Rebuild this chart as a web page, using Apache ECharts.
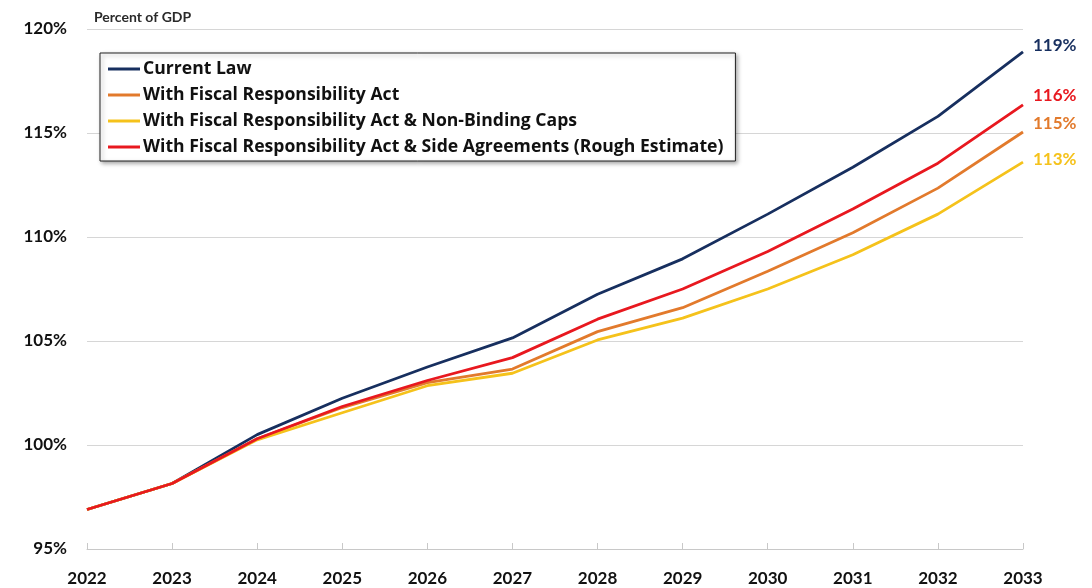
<!DOCTYPE html>
<html>
<head>
<meta charset="utf-8">
<script src="https://cdn.jsdelivr.net/npm/echarts@6/dist/echarts.min.js"></script>
<style>
html,body{margin:0;padding:0;background:#fff;}
#c{width:1092px;height:588px;}
</style>
</head>
<body>
<div id="c"></div>
<script>
const years = ['2022','2023','2024','2025','2026','2027','2028','2029','2030','2031','2032','2033'];
const seriesNames = ['Current Law','With Fiscal Responsibility Act','With Fiscal Responsibility Act & Non-Binding Caps','With Fiscal Responsibility Act & Side Agreements (Rough Estimate)'];
const currentLaw = [96.9, 98.15, 100.5, 102.25, 103.75, 105.15, 107.25, 108.95, 111.1, 113.35, 115.8, 118.9];
const withFRA = [96.9, 98.15, 100.3, 101.8, 103.0, 103.65, 105.45, 106.6, 108.35, 110.2, 112.35, 115.05];
const withFRACaps = [96.9, 98.15, 100.25, 101.55, 102.85, 103.45, 105.05, 106.1, 107.5, 109.15, 111.1, 113.6];
const withFRASide = [96.9, 98.15, 100.3, 101.85, 103.1, 104.2, 106.05, 107.5, 109.3, 111.35, 113.55, 116.35];
const endLabels = ['119%','115%','113%','116%'];
const yTicks = [95, 100, 105, 110, 115, 120];

const colors = ['#172f5f', '#e27a2c', '#f5c21b', '#e8181f'];
const labelOffsets = [[2,-6],[2,-8],[2,-3],[2,-9]];
const allData = [currentLaw, withFRA, withFRACaps, withFRASide];
const FONT = 'Lato';

const chart = echarts.init(document.getElementById('c'));
chart.setOption({
  backgroundColor: '#fff',
  animation: false,
  title: {
    text: 'Percent of GDP', left: 89, top: 5,
    textStyle: {fontFamily: FONT, fontSize: 14, fontWeight: 'bold', color: '#2a2a2a'}
  },
  legend: {
    left: 100, top: 53, orient: 'vertical',
    data: seriesNames,
    icon: 'rect', itemWidth: 32, itemHeight: 3, itemGap: 6,
    padding: [6, 12, 4, 8],
    borderColor: '#222', borderWidth: 1, backgroundColor: '#fff',
    shadowBlur: 4, shadowColor: 'rgba(0,0,0,0.35)', shadowOffsetX: 2, shadowOffsetY: 2,
    textStyle: {fontFamily: 'Open Sans', fontSize: 17.6, fontWeight: 'bold', color: '#111', lineHeight: 20, padding: [0,0,0,-2]}
  },
  grid: {left: 87, right: 69, top: 29, bottom: 39, containLabel: false},
  xAxis: {
    type: 'category', data: years, boundaryGap: false,
    axisLine: {lineStyle: {color: '#c8c8c8', width: 1}},
    axisTick: {inside: true, length: 6, lineStyle: {color: '#c8c8c8'}},
    axisLabel: {fontFamily: FONT, fontSize: 17, fontWeight: 'bold', color: '#111', margin: 21},
    splitLine: {show: false}
  },
  yAxis: {
    type: 'value', min: 95, max: 120, interval: 5,
    axisLine: {show: false}, axisTick: {show: false},
    axisLabel: {fontFamily: FONT, fontSize: 17, fontWeight: 'bold', color: '#111', margin: 20,
      formatter: v => yTicks.includes(v) ? v + '%' : ''},
    splitLine: {lineStyle: {color: '#d6d6d6', width: 1}}
  },
  series: seriesNames.map((n, i) => ({
    name: n, type: 'line', data: allData[i], showSymbol: false, symbol: 'none',
    lineStyle: {color: colors[i], width: 2.8},
    itemStyle: {color: colors[i]},
    endLabel: {show: true, formatter: endLabels[i], color: colors[i], fontFamily: FONT,
      fontSize: 17, fontWeight: 'bold', offset: labelOffsets[i]},
    z: 2 + i
  }))
});
</script>
</body>
</html>
